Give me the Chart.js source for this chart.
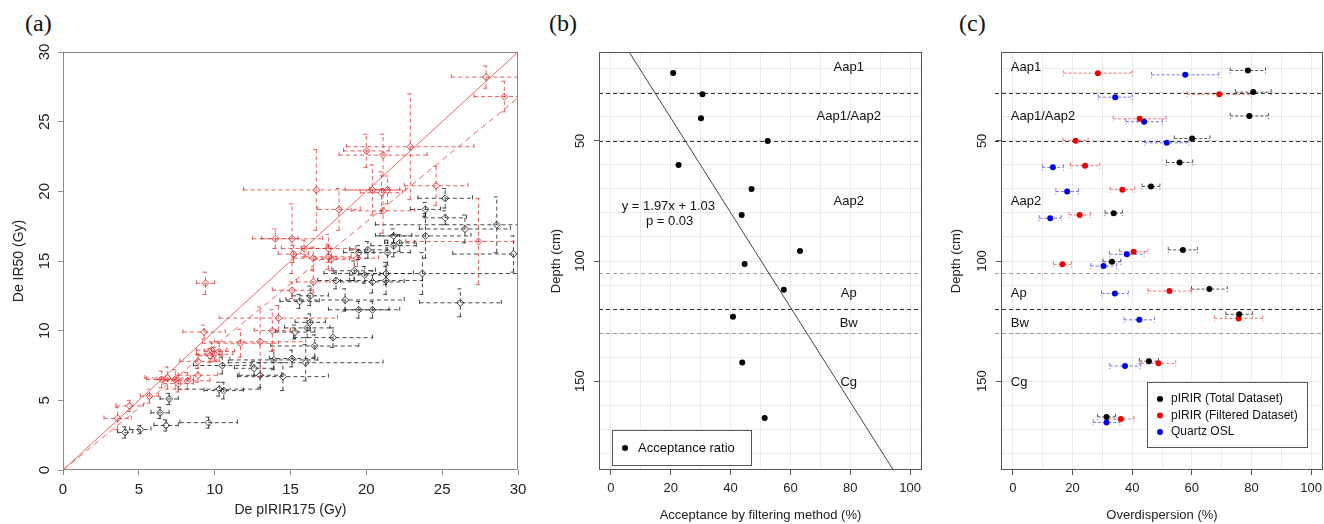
<!DOCTYPE html>
<html>
<head>
<meta charset="utf-8">
<title>De, acceptance and overdispersion</title>
<script src="https://cdn.jsdelivr.net/npm/chart.js@4.4.1/dist/chart.umd.min.js"></script>
<style>
  body { margin: 0; background: #fff; width: 1324px; height: 524px; position: relative; overflow: hidden; }
  canvas { position: absolute; top: 0; }
  .tag { position: absolute; top: 11px; font-family: "Liberation Serif", "DejaVu Serif", serif; font-size: 24px; line-height: 1; color: #111; }
</style>
</head>
<body>
<div class="tag" style="left:25px">(a)</div>
<div class="tag" style="left:549px">(b)</div>
<div class="tag" style="left:959px">(c)</div>
<canvas id="chartA" width="540" height="524" style="left:0"></canvas>
<canvas id="chartB" width="400" height="524" style="left:540px"></canvas>
<canvas id="chartC" width="410" height="524" style="left:940px"></canvas>
<script>
// ---------- panel (a): De IR50 vs De pIRIR175 (Gy) ----------
// total dataset (black)
const totalDeX  = [25.2, 23.9, 25.2, 28.6, 26.5, 23.9, 21.8, 21.8, 22.2, 29.7, 21.4, 20.1, 19.5, 19.2, 19.9, 21.3,
                   23.7, 18.0, 20.4, 21.3, 26.2, 18.6, 16.3, 15.6, 19.5, 20.4, 16.3, 16.1, 15.3, 17.8, 16.6, 15.1,
                   13.9, 16.0, 10.5, 12.6, 13.0, 14.5, 10.3, 10.6, 7.0, 6.4, 6.8, 9.6, 5.1, 4.1];
const totalDeY  = [19.5, 18.7, 18.1, 17.6, 17.3, 16.8, 16.8, 16.1, 16.3, 15.5, 15.6, 15.8, 15.6, 14.3, 14.0, 14.1,
                   14.1, 13.6, 13.5, 13.6, 12.0, 12.2, 12.5, 12.1, 11.5, 11.5, 10.6, 10.2, 9.9, 9.5, 8.9, 8.0,
                   7.9, 7.7, 7.5, 7.3, 6.8, 6.7, 5.8, 5.7, 5.1, 4.1, 3.2, 3.4, 2.9, 2.7];
const totalErrX = [1.8, 1.0, 1.4, 8.0, 3.0, 3.0, 1.2, 1.5, 1.0, 4.0, 1.5, 1.2, 1.0, 1.4, 1.0, 1.8,
                   6.5, 1.2, 2.1, 2.4, 2.7, 3.9, 1.2, 1.3, 2.0, 1.8, 1.0, 1.5, 1.3, 2.6, 2.9, 1.5,
                   2.9, 5.1, 1.9, 1.3, 1.4, 3.0, 2.7, 1.3, 0.6, 0.6, 0.8, 1.9, 0.7, 0.5];
const totalErrY = [0.7, 0.5, 0.5, 2.0, 1.0, 1.6, 0.5, 0.8, 0.6, 1.3, 0.9, 0.6, 0.5, 0.7, 0.6, 0.8,
                   1.5, 0.6, 0.8, 1.0, 1.0, 0.8, 0.7, 0.5, 0.6, 0.6, 0.6, 0.7, 0.5, 0.7, 0.8, 0.6,
                   0.7, 1.3, 0.6, 0.5, 0.9, 1.0, 0.5, 0.6, 0.4, 0.4, 0.4, 0.4, 0.3, 0.4];
// filtered dataset (red)
const filtDeX  = [27.9, 29.1, 22.9, 20.0, 21.1, 16.7, 20.4, 21.0, 21.4, 24.6, 18.2, 21.1, 14.0, 15.1, 15.9, 27.4,
                  17.5, 17.5, 17.7, 19.4, 16.5, 15.2, 9.4, 16.5, 15.1, 14.2, 9.3, 11.7, 13.0, 9.8, 10.0, 10.3,
                  9.7, 8.9, 8.9, 8.2, 6.9, 6.5, 7.4, 7.6, 5.7, 4.4, 3.6, 13.8];
const filtDeY  = [28.2, 26.8, 23.2, 22.9, 22.6, 20.1, 20.1, 19.9, 20.1, 20.4, 18.7, 18.6, 16.6, 16.6, 15.9, 16.4,
                  15.9, 15.3, 15.1, 15.2, 15.2, 15.5, 13.4, 13.5, 12.9, 10.9, 9.9, 9.1, 9.2, 8.6, 8.3, 8.5,
                  8.2, 7.8, 6.8, 6.4, 6.6, 6.5, 6.5, 6.2, 5.3, 4.6, 3.7, 10.0];
const filtErrX = [2.3, 2.0, 4.2, 1.5, 2.9, 4.8, 1.8, 1.4, 1.2, 2.1, 1.4, 2.1, 1.5, 2.0, 1.5, 4.8,
                  1.8, 1.5, 1.2, 1.4, 1.3, 1.0, 0.6, 1.1, 1.3, 3.9, 1.4, 2.5, 3.0, 1.0, 1.2, 1.0,
                  0.8, 1.2, 1.3, 1.5, 1.5, 1.0, 1.2, 1.0, 0.6, 0.9, 0.9, 1.2];
const filtErrY = [0.8, 1.1, 3.8, 1.2, 1.5, 2.9, 1.8, 1.5, 1.0, 1.4, 1.5, 1.6, 0.7, 2.5, 0.6, 3.1,
                  1.0, 0.9, 0.8, 0.6, 0.8, 0.6, 0.8, 0.8, 0.6, 0.9, 0.5, 1.0, 2.5, 0.6, 0.5, 0.7,
                  0.5, 0.5, 0.5, 0.6, 0.8, 0.6, 0.7, 0.6, 0.5, 0.4, 0.8, 1.5];
const unitSlope = 1.0;   // 1:1 line
const fitSlope = 0.89;   // dashed fit through origin

// ---------- panel (b): acceptance ratio vs depth ----------
const acceptance  = [20.8, 30.6, 30.1, 52.4, 22.6, 47.0, 43.7, 63.2, 44.7, 57.8, 40.8, 43.9, 51.4];
const acceptDepth = [21.7, 30.6, 40.6, 50.0, 60.0, 70.0, 80.8, 95.8, 101.3, 112.0, 123.2, 142.2, 165.4];
const regSlope = 1.97, regIntercept = 1.03;

// ---------- panel (c): overdispersion (%) vs depth ----------
const totalOD      = [78.8, 80.6, 79.3, 60.1, 55.9, 46.3, 33.8, 57.0, 33.2, 65.9, 75.9, 45.6, 31.4];
const totalODErr   = [5.9, 6.0, 6.4, 6.0, 4.4, 3.0, 2.9, 4.9, 3.0, 6.0, 4.5, 3.2, 3.0];
const totalODDepth = [20.7, 29.7, 39.6, 49.0, 59.0, 69.0, 80.1, 95.4, 100.3, 111.7, 122.2, 141.7, 164.9];
const filtOD       = [28.5, 69.2, 42.5, 21.0, 24.2, 36.7, 22.4, 40.5, 16.6, 52.5, 75.7, 48.8, 36.2];
const filtODErr    = [11.5, 10.8, 8.9, 4.2, 4.9, 4.1, 3.6, 4.8, 3.0, 7.2, 8.1, 5.8, 4.4];
const filtODDepth  = [21.8, 30.6, 40.8, 49.9, 60.3, 70.3, 80.8, 96.1, 101.4, 112.5, 123.9, 142.6, 165.8];
const oslOD        = [57.8, 34.3, 44.0, 51.6, 13.4, 18.2, 12.5, 38.2, 30.4, 34.2, 42.4, 37.6, 31.4];
const oslODErr     = [11.3, 5.7, 6.1, 7.4, 3.6, 3.8, 3.7, 5.8, 4.3, 4.5, 5.1, 5.1, 4.5];
const oslODDepth   = [22.5, 31.8, 42.0, 50.8, 61.0, 71.1, 82.2, 97.2, 102.1, 113.5, 124.5, 143.7, 167.2];

// soil horizons (shared by b and c)
const horizonDepths = [30, 50, 105, 120, 130];
const horizonDark   = [true, true, false, true, false];
const horizonNames  = ['Aap1', 'Aap1/Aap2', 'Aap2', 'Ap', 'Bw', 'Cg'];
const horizonLabelDepth = [19.6, 40, 75, 113.3, 125.8, 150.4];

const doseTicks  = [0, 5, 10, 15, 20, 25, 30];
const depthTicks = [50, 100, 150];
const pctTicks   = [0, 20, 40, 60, 80, 100];

const SANS = '"Liberation Sans", Arial, sans-serif';

function toPoints(xs, ys) {
  return xs.map((v, i) => ({ x: v, y: ys[i] }));
}

function seg(ctx, x0, y0, x1, y1) {
  ctx.beginPath();
  ctx.moveTo(x0, y0);
  ctx.lineTo(x1, y1);
  ctx.stroke();
}

// dashed error bars with small caps, drawn under the markers
const errorBars = {
  id: 'errorBars',
  beforeDatasetsDraw(chart) {
    const { ctx, chartArea: a, scales: { x, y } } = chart;
    ctx.save();
    ctx.beginPath();
    ctx.rect(a.left, a.top, a.right - a.left, a.bottom - a.top);
    ctx.clip();
    ctx.lineWidth = 1;
    chart.data.datasets.forEach(ds => {
      if (!ds.errColor) return;
      ctx.strokeStyle = ds.errColor;
      ctx.setLineDash(ds.errDash || [3, 2]);
      const cap = 3;
      ds.data.forEach((p, i) => {
        const px = x.getPixelForValue(p.x);
        const py = y.getPixelForValue(p.y);
        if (ds.xErr) {
          const lo = x.getPixelForValue(p.x - ds.xErr[i]);
          const hi = x.getPixelForValue(p.x + ds.xErr[i]);
          seg(ctx, lo, py, hi, py);
          seg(ctx, lo, py - cap, lo, py + cap);
          seg(ctx, hi, py - cap, hi, py + cap);
        }
        if (ds.yErr) {
          const lo = y.getPixelForValue(p.y - ds.yErr[i]);
          const hi = y.getPixelForValue(p.y + ds.yErr[i]);
          seg(ctx, px, lo, px, hi);
          seg(ctx, px - cap, lo, px + cap, lo);
          seg(ctx, px - cap, hi, px + cap, hi);
        }
      });
    });
    ctx.restore();
  }
};

// box round the plot region, plus vertical tick labels on the y axis (R style)
const frame = {
  id: 'frame',
  afterDraw(chart, args, opts) {
    const { ctx, chartArea: a, scales: { y } } = chart;
    ctx.save();
    ctx.strokeStyle = opts.color;
    ctx.lineWidth = 1;
    ctx.strokeRect(a.left + 0.5, a.top + 0.5, a.right - a.left - 1, a.bottom - a.top - 1);
    ctx.fillStyle = '#222';
    ctx.font = opts.font;
    ctx.textAlign = 'center';
    ctx.textBaseline = 'middle';
    opts.values.forEach(v => {
      ctx.save();
      ctx.translate(a.left - opts.offset, y.getPixelForValue(v));
      ctx.rotate(-Math.PI / 2);
      ctx.fillText(String(v), 0, 0);
      ctx.restore();
    });
    ctx.restore();
  }
};

// horizon boundaries and names
const horizons = {
  id: 'horizons',
  beforeDatasetsDraw(chart, args, opts) {
    const { ctx, chartArea: a, scales: { x, y } } = chart;
    ctx.save();
    ctx.lineWidth = 1;
    ctx.setLineDash([4, 3]);
    horizonDepths.forEach((d, i) => {
      const py = Math.round(y.getPixelForValue(d)) + 0.5;
      ctx.strokeStyle = horizonDark[i] ? '#333' : '#9a9a9a';
      seg(ctx, a.left - opts.lineOver, py, a.right, py);
    });
    ctx.setLineDash([]);
    ctx.fillStyle = '#111';
    ctx.font = '13px ' + SANS;
    ctx.textAlign = opts.align;
    ctx.textBaseline = 'middle';
    horizonNames.forEach((n, i) => {
      ctx.fillText(n, x.getPixelForValue(opts.labelX), y.getPixelForValue(horizonLabelDepth[i]));
    });
    ctx.restore();
  }
};

// legend box drawn inside the plot
const boxLegend = {
  id: 'boxLegend',
  afterDraw(chart, args, opts) {
    const { ctx } = chart;
    ctx.save();
    ctx.fillStyle = '#fff';
    ctx.fillRect(opts.left, opts.top, opts.width, opts.height);
    ctx.strokeStyle = '#555';
    ctx.lineWidth = 1;
    ctx.strokeRect(opts.left + 0.5, opts.top + 0.5, opts.width, opts.height);
    ctx.font = opts.font;
    ctx.textBaseline = 'middle';
    ctx.textAlign = 'left';
    chart.data.datasets.filter(d => d.inLegend).forEach((d, i) => {
      const cy = opts.firstRow + i * opts.rowGap;
      ctx.fillStyle = d.backgroundColor;
      ctx.beginPath();
      ctx.arc(opts.dotX, cy, 3, 0, Math.PI * 2);
      ctx.fill();
      ctx.fillStyle = '#111';
      ctx.fillText(d.label, opts.textX, cy);
    });
    ctx.restore();
  }
};

// regression text in panel (b)
const fitText = {
  id: 'fitText',
  afterDatasetsDraw(chart) {
    const { ctx, scales: { x, y } } = chart;
    ctx.save();
    ctx.fillStyle = '#111';
    ctx.font = '13px ' + SANS;
    ctx.textBaseline = 'middle';
    ctx.fillText('y = ' + regSlope.toFixed(2) + 'x + ' + regIntercept.toFixed(2), x.getPixelForValue(3.6), y.getPixelForValue(77.4));
    ctx.fillText('p = 0.03', x.getPixelForValue(11.7), y.getPixelForValue(83.6));
    ctx.restore();
  }
};

const noise = { legend: { display: false }, tooltip: { enabled: false } };

// ---------- chart (a) ----------
new Chart(document.getElementById('chartA'), {
  type: 'scatter',
  data: {
    datasets: [
      {
        label: 'pIRIR (Total Dataset)',
        data: toPoints(totalDeX, totalDeY),
        xErr: totalErrX, yErr: totalErrY,
        errColor: 'rgba(25,25,25,0.8)', errDash: [4, 3],
        pointStyle: 'rectRot', pointRadius: 3.5, borderWidth: 1,
        borderColor: 'rgba(45,45,45,0.9)', backgroundColor: 'rgba(0,0,0,0)'
      },
      {
        label: 'pIRIR (Filtered Dataset)',
        data: toPoints(filtDeX, filtDeY),
        xErr: filtErrX, yErr: filtErrY,
        errColor: 'rgba(224,40,40,0.75)', errDash: [4, 3],
        pointStyle: 'rectRot', pointRadius: 3.5, borderWidth: 1,
        borderColor: 'rgba(226,50,50,0.9)', backgroundColor: 'rgba(0,0,0,0)'
      },
      {
        label: '1:1',
        data: [doseTicks[0], doseTicks[doseTicks.length - 1]].map(v => ({ x: v, y: v * unitSlope })),
        showLine: true, pointRadius: 0, borderWidth: 1,
        borderColor: 'rgba(235,85,85,0.9)'
      },
      {
        label: 'fit',
        data: [doseTicks[0], doseTicks[doseTicks.length - 1]].map(v => ({ x: v, y: v * fitSlope })),
        showLine: true, pointRadius: 0, borderWidth: 1, borderDash: [6, 4],
        borderColor: 'rgba(235,85,85,0.9)'
      }
    ]
  },
  options: {
    responsive: false, animation: false, devicePixelRatio: 1,
    layout: { padding: { left: 0, top: 52, right: 22, bottom: 0 } },
    plugins: {
      ...noise,
      frame: { color: '#8a8a8a', font: '15px ' + SANS, offset: 18, values: doseTicks }
    },
    scales: {
      x: {
        type: 'linear', min: 0, max: 30,
        ticks: { stepSize: 5, color: '#222', font: { family: SANS, size: 15 }, padding: 6, maxRotation: 0 },
        grid: { drawOnChartArea: false, tickLength: 5, tickColor: '#8a8a8a' },
        border: { display: false },
        title: { display: true, text: 'De pIRIR175 (Gy)', color: '#222', font: { family: SANS, size: 14 }, padding: { top: 0, bottom: 5 } },
        afterFit: s => { s.height = 54; }
      },
      y: {
        type: 'linear', min: 0, max: 30,
        ticks: { stepSize: 5, display: false },
        grid: { drawOnChartArea: false, tickLength: 5, tickColor: '#8a8a8a' },
        border: { display: false },
        title: { display: true, text: 'De IR50 (Gy)', color: '#222', font: { family: SANS, size: 14 }, padding: { top: 11, bottom: 0 } },
        afterFit: s => { s.width = 63; }
      }
    }
  },
  plugins: [errorBars, frame]
});

// shared axes for the depth panels
function depthAxes(yWidth, xTitle) {
  return {
    x: {
      type: 'linear', min: -4, max: 104,
      ticks: {
        stepSize: 10, includeBounds: false, color: '#222', padding: 6, maxRotation: 0,
        font: { family: SANS, size: 13 },
        callback: v => (pctTicks.includes(v) ? v : '')
      },
      grid: {
        color: '#ebebeb', tickLength: 5,
        tickColor: c => (c.tick && pctTicks.includes(c.tick.value) ? '#555' : 'rgba(0,0,0,0)')
      },
      border: { display: false },
      title: { display: true, text: xTitle, color: '#222', font: { family: SANS, size: 13 }, padding: { top: 0, bottom: 1 } },
      afterFit: s => { s.height = 54; }
    },
    y: {
      type: 'linear', min: 13, max: 187, reverse: true,
      ticks: { stepSize: 10, includeBounds: false, display: false },
      grid: {
        color: '#ebebeb', tickLength: 5,
        tickColor: c => (c.tick && depthTicks.includes(c.tick.value) ? '#555' : 'rgba(0,0,0,0)')
      },
      border: { display: false },
      title: { display: true, text: 'Depth (cm)', color: '#222', font: { family: SANS, size: 13 }, padding: { top: 9, bottom: 0 } },
      afterFit: s => { s.width = yWidth; }
    }
  };
}

// ---------- chart (b) ----------
new Chart(document.getElementById('chartB'), {
  type: 'scatter',
  data: {
    datasets: [
      {
        label: 'Acceptance ratio', inLegend: true,
        data: toPoints(acceptance, acceptDepth),
        pointRadius: 3, borderWidth: 0, backgroundColor: '#000', borderColor: '#000'
      },
      {
        label: 'fit',
        data: [pctTicks[0], pctTicks[pctTicks.length - 1]].map(v => ({ x: v, y: regSlope * v + regIntercept })),
        showLine: true, pointRadius: 0, borderWidth: 1, borderColor: '#444'
      }
    ]
  },
  options: {
    responsive: false, animation: false, devicePixelRatio: 1,
    layout: { padding: { left: 0, top: 52, right: 18, bottom: 0 } },
    plugins: {
      ...noise,
      frame: { color: '#555', font: '13px ' + SANS, offset: 19, values: depthTicks },
      horizons: { labelX: 79.5, align: 'center', lineOver: 0 },
      boxLegend: { left: 72, top: 430, width: 139, height: 35, font: '13px ' + SANS, dotX: 85, textX: 98, firstRow: 448, rowGap: 16 }
    },
    scales: depthAxes(59, 'Acceptance by filtering method (%)')
  },
  plugins: [horizons, frame, fitText, boxLegend]
});

// ---------- chart (c) ----------
new Chart(document.getElementById('chartC'), {
  type: 'scatter',
  data: {
    datasets: [
      {
        label: 'pIRIR (Total Dataset)', inLegend: true,
        data: toPoints(totalOD, totalODDepth), xErr: totalODErr,
        errColor: 'rgba(40,40,40,0.8)', errDash: [3, 2],
        pointRadius: 3, borderWidth: 0, backgroundColor: '#000'
      },
      {
        label: 'pIRIR (Filtered Dataset)', inLegend: true,
        data: toPoints(filtOD, filtODDepth), xErr: filtODErr,
        errColor: 'rgba(236,80,80,0.8)', errDash: [3, 2],
        pointRadius: 3, borderWidth: 0, backgroundColor: '#f00000'
      },
      {
        label: 'Quartz OSL', inLegend: true,
        data: toPoints(oslOD, oslODDepth), xErr: oslODErr,
        errColor: 'rgba(80,80,230,0.8)', errDash: [3, 2],
        pointRadius: 3, borderWidth: 0, backgroundColor: '#0000e6'
      }
    ]
  },
  options: {
    responsive: false, animation: false, devicePixelRatio: 1,
    layout: { padding: { left: 0, top: 52, right: 27, bottom: 0 } },
    plugins: {
      ...noise,
      frame: { color: '#555', font: '13px ' + SANS, offset: 19, values: depthTicks },
      horizons: { labelX: -0.7, align: 'left', lineOver: 6 },
      boxLegend: { left: 207, top: 382, width: 160, height: 65, font: '12px ' + SANS, dotX: 220, textX: 231, firstRow: 399, rowGap: 16.5 }
    },
    scales: depthAxes(61, 'Overdispersion (%)')
  },
  plugins: [horizons, errorBars, frame, boxLegend]
});
</script>
</body>
</html>
